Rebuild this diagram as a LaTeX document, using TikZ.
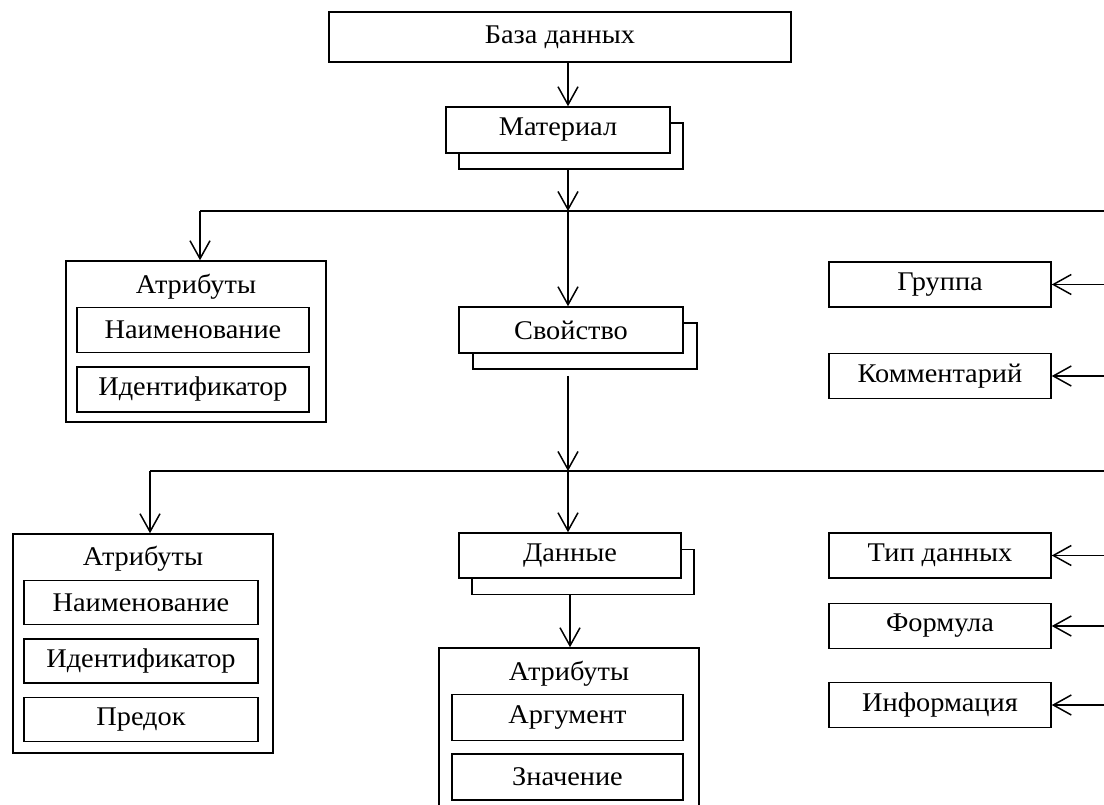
\documentclass[tikz,border=0pt]{standalone}
\usepackage{fontspec}
\setmainfont{Liberation Serif}[FakeStretch=1.05]
\usetikzlibrary{positioning,arrows.meta}

\begin{document}
\begin{tikzpicture}[
    x=1pt, y=-1pt,
    line width=1.5pt,
    node distance=13pt,
    every node/.style={font=\fontsize{27}{32}\selectfont},
    box/.style={rectangle, draw, fill=white, minimum width=224pt,
        minimum height=46pt, inner sep=0pt},
    attrbox/.style={rectangle, draw, minimum width=232pt,
        minimum height=45pt, inner sep=0pt},
    group/.style={rectangle, draw, minimum width=260pt, inner sep=0pt},
    arr/.style={-{Straight Barb[length=18pt, width=20pt]}},
]
\clip (0,0) rectangle (1104,805);

% top of the tree
\node[box, minimum width=462pt, minimum height=50pt] (db) at (560,37) {База данных};
\node[box] (matback) at (571,146) {};
\node[box] (mat) at (558,130) {Материал};

% first bus
\coordinate (bus1) at (568,211);
\coordinate (bus1l) at (200,211);
\coordinate (bus1r) at (1110,211);

\node[group, minimum height=161pt] (attr1) at (196,341.5) {};
\node (attr1t) at (196,287) {Атрибуты};
\node[attrbox] (a1name) at (193,330) {Наименование};
\node[attrbox, below=of a1name] (a1id) {Идентификатор};

\node[box] (propback) at (585,346) {};
\node[box] (prop) at (571,330) {Свойство};

\node[box, minimum width=222pt, minimum height=45pt] (grp) at (940,284.5) {Группа};
\node[box, minimum width=222pt, minimum height=45pt] (comm) at (940,376) {Комментарий};

% second bus
\coordinate (bus2) at (568,471);
\coordinate (bus2l) at (150,471);
\coordinate (bus2r) at (1110,471);

\node[group, minimum height=219pt] (attr2) at (143,643.5) {};
\node (attr2t) at (143,559) {Атрибуты};
\node[attrbox, minimum width=234pt, minimum height=44pt] (a2name) at (141,602.5) {Наименование};
\node[attrbox, minimum width=234pt, minimum height=44pt, below=of a2name] (a2id) {Идентификатор};
\node[attrbox, minimum width=234pt, minimum height=44pt, below=of a2id] (a2par) {Предок};

\node[box, minimum width=222pt, minimum height=45pt] (databack) at (583,572) {};
\node[box, minimum width=222pt, minimum height=45pt] (data) at (570,555.5) {Данные};

\node[group, minimum height=182pt] (attr3) at (569,739) {};
\node (attr3t) at (569,674) {Атрибуты};
\node[attrbox, minimum width=231pt, minimum height=46pt] (a3arg) at (567.5,717.5) {Аргумент};
\node[attrbox, minimum width=231pt, minimum height=46pt, below=12pt of a3arg] (a3val) {Значение};

\node[box, minimum width=222pt, minimum height=45pt] (type) at (940,555.5) {Тип данных};
\node[box, minimum width=222pt, minimum height=45pt] (form) at (940,626) {Формула};
\node[box, minimum width=222pt, minimum height=45pt] (info) at (940,705) {Информация};

% connectors
\draw[arr] (db.south -| bus1) -- (mat.north -| bus1);
\draw[arr] (matback.south -| bus1) -- (bus1);
\draw (bus1l) -- (bus1r);
\draw[arr] (bus1l) -- (attr1.north -| bus1l);
\draw[arr] (bus1) -- (prop.north -| bus1);
\draw[arr] (bus1r |- grp) -- (grp.east);
\draw[arr] (bus1r |- comm) -- (comm.east);

\draw[arr, shorten <=6pt] (propback.south -| bus2) -- (bus2);
\draw (bus2l) -- (bus2r);
\draw[arr] (bus2l) -- (attr2.north -| bus2l);
\draw[arr] (bus2) -- (data.north -| bus2);
\draw[arr] (databack.south -| data.south) -- (attr3.north -| data.south);
\draw[arr] (bus2r |- type) -- (type.east);
\draw[arr] (bus2r |- form) -- (form.east);
\draw[arr] (bus2r |- info) -- (info.east);
\end{tikzpicture}
\end{document}
